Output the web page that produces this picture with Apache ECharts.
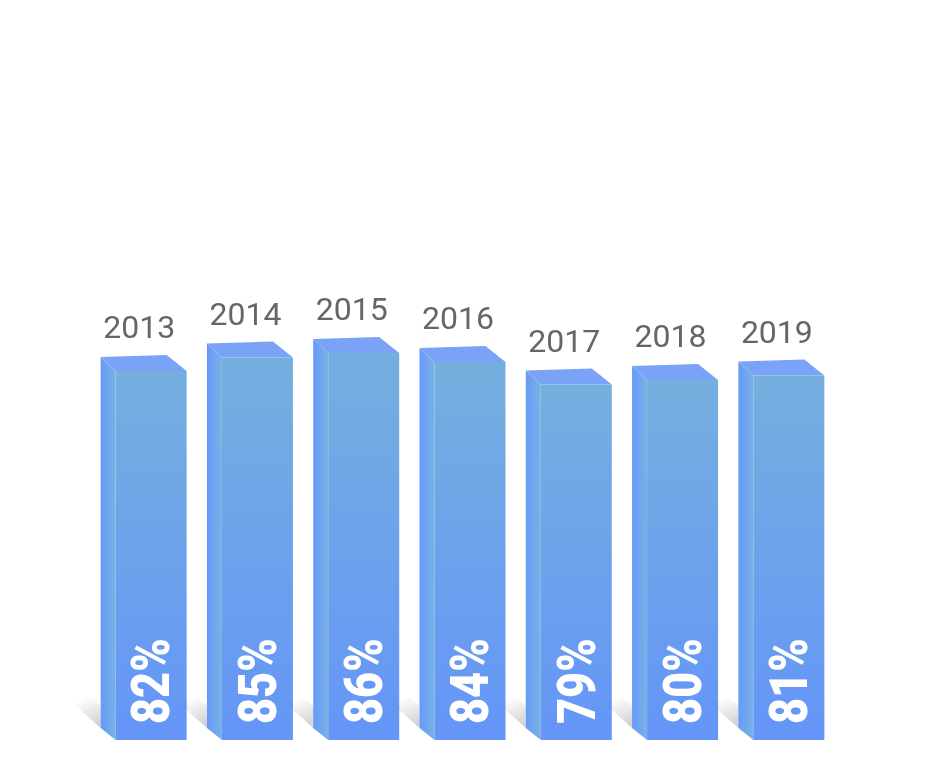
<!DOCTYPE html>
<html>
<head>
<meta charset="utf-8">
<script src="https://cdn.jsdelivr.net/npm/echarts@6/dist/echarts.min.js"></script>
<style>
html,body{margin:0;padding:0;background:#fff;}
#main{width:928px;height:774px;}
</style>
</head>
<body>
<div id="main"></div>
<script>
var years = ['2013', '2014', '2015', '2016', '2017', '2018', '2019'];
var values = [82, 85, 86, 84, 79, 80, 81];

var chart = echarts.init(document.getElementById('main'), null, {renderer: 'canvas'});

function renderItem(params, api) {
  var idx = api.value(0);
  var val = api.value(1);
  var top = api.coord([idx, val]);
  var bot = api.coord([idx, 0]);
  var cx = top[0];
  var yT = top[1];
  var yB = bot[1];
  var hw = 35.5;
  var x0 = cx - hw, x1 = cx + hw;
  var sdx = 15, sdyT = 14, sdyB = 12;
  var children = [];
  // shadow
  var ax = x0 - sdx, ay = yB - sdyB;
  var bx = ax - 28, by = ay - 25;
  children.push({
    type: 'polygon',
    shape: {points: [[ax, ay], [bx, by], [bx, by - 22], [ax, ay - 22]]},
    style: {
      fill: new echarts.graphic.LinearGradient(ax - 4, ay - 2, ax - 16, ay - 30, [
        {offset: 0, color: 'rgba(0,0,0,0.18)'},
        {offset: 1, color: 'rgba(0,0,0,0)'}
      ], true)
    },
    silent: true
  });
  // side face
  children.push({
    type: 'polygon',
    shape: {points: [[x0, yT], [x0 - sdx, yT - sdyT], [x0 - sdx, yB - sdyB], [x0, yB]]},
    style: {
      fill: new echarts.graphic.LinearGradient(0, 0, 1, 0, [
        {offset: 0, color: '#6699fb'},
        {offset: 1, color: '#7ab2e2'}
      ])
    }
  });
  // top face
  children.push({
    type: 'polygon',
    shape: {points: [[x0, yT], [x0 - sdx, yT - sdyT], [x1 - 20, yT - 16], [x1, yT]]},
    style: {fill: '#7aa3f7'}
  });
  // front face
  children.push({
    type: 'rect',
    shape: {x: x0, y: yT, width: x1 - x0, height: yB - yT},
    style: {
      fill: new echarts.graphic.LinearGradient(0, 0, 0, 1, [
        {offset: 0, color: '#75afde'},
        {offset: 1, color: '#6495f8'}
      ])
    }
  });
  // year label
  children.push({
    type: 'text',
    x: cx - 12,
    y: yT - 41,
    style: {
      text: years[idx],
      align: 'center',
      verticalAlign: 'middle',
      fontSize: 32,
      fontFamily: 'Roboto',
      fill: '#666666'
    }
  });
  // percent label
  children.push({
    type: 'text',
    x: cx + 5,
    y: yB - 16,
    rotation: Math.PI / 2,
    scaleX: 0.85,
    style: {
      text: val + '%',
      align: 'left',
      verticalAlign: 'middle',
      fontSize: 53,
      fontWeight: 900,
      fontFamily: 'Roboto',
      fill: '#ffffff'
    }
  });
  return {type: 'group', children: children};
}

var option = {
  backgroundColor: '#ffffff',
  animation: false,
  grid: {left: 98, right: 86, top: 290, bottom: 34},
  xAxis: {type: 'category', data: years, show: false},
  yAxis: {type: 'value', min: 0, max: 100, show: false},
  series: [{
    type: 'custom',
    renderItem: renderItem,
    data: values.map(function (v, i) { return [i, v]; })
  }]
};
chart.setOption(option);
</script>
</body>
</html>
